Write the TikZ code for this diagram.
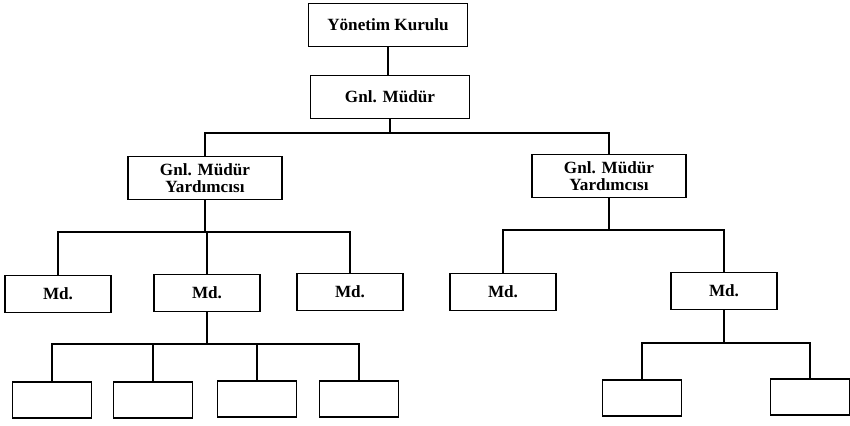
\documentclass[tikz,border=0pt]{standalone}
\usepackage{fontspec}
\setmainfont{Liberation Serif}
\begin{document}
\begin{tikzpicture}[x=0.7pt, y=0.7pt, line width=0.9pt,
    kutu/.style={draw, line width=1pt, align=center, inner sep=0pt,
        font=\fontsize{12}{11.5}\selectfont\bfseries},
    ust/.style={kutu, minimum width=111pt, minimum height=30pt},
    yrd/.style={kutu, minimum width=108pt, minimum height=30pt},
    md/.style={kutu, minimum width=74pt, minimum height=26pt},
    alt/.style={kutu, minimum width=55pt, minimum height=25pt}]
    \useasboundingbox (0,0) rectangle (850,-425);

    \node[ust] (yk) at (388,-25) {Yönetim Kurulu};
    \node[ust] (gm) at (390,-97) {Gnl. Müdür};
    \node[yrd] (gmy1) at (205,-178) {Gnl. Müdür\\Yardımcısı};
    \node[yrd] (gmy2) at (609,-176) {Gnl. Müdür\\Yardımcısı};

    \node[md] (md1) at (58,-294) {Md.};
    \node[md] (md2) at (207,-293) {Md.};
    \node[md] (md3) at (350,-292) {Md.};
    \node[md] (md4) at (503,-292) {Md.};
    \node[md] (md5) at (724,-291) {Md.};

    \foreach \ad/\xx/\yy in {b1/52/-400, b2/153/-400, b3/257/-399, b4/359/-399,
                             b5/642/-398, b6/810/-397} {
        \node[alt] (\ad) at (\xx,\yy) {};
    }

    \draw (yk.south) -- (yk.south |- gm.north);

    \draw (gm) -- (gm |- 0,-133) coordinate (k1);
    \draw (k1) -| (gmy1);
    \draw (k1) -| (gmy2);

    \draw (gmy1) -- (gmy1 |- 0,-232) coordinate (k2);
    \foreach \c in {md1,md2,md3} \draw (k2) -| (\c);

    \draw (gmy2) -- (gmy2 |- 0,-230) coordinate (k3);
    \foreach \c in {md4,md5} \draw (k3) -| (\c);

    \draw (md2) -- (md2 |- 0,-344) coordinate (k4);
    \foreach \c in {b1,b2,b3,b4} \draw (k4) -| (\c);

    \draw (md5) -- (md5 |- 0,-343) coordinate (k5);
    \foreach \c in {b5,b6} \draw (k5) -| (\c);
\end{tikzpicture}
\end{document}
